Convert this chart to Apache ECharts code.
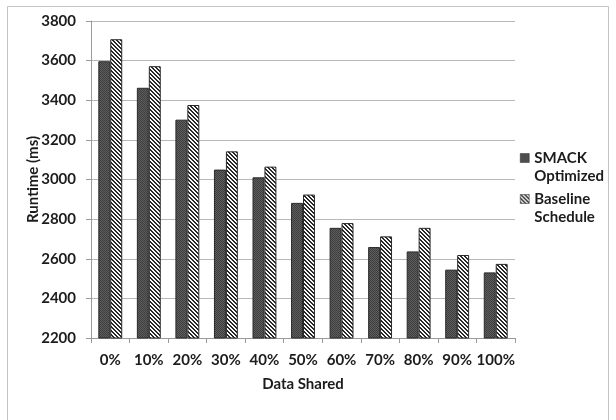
<!DOCTYPE html>
<html>
<head>
<meta charset="utf-8">
<script src="https://cdn.jsdelivr.net/npm/echarts@6/dist/echarts.min.js"></script>
<style>
  html, body { margin: 0; padding: 0; background: #fff; }
  #chart { width: 616px; height: 420px; }
</style>
</head>
<body>
<div id="chart"></div>
<script>
// Runtime per share level
const categories = ['0%', '10%', '20%', '30%', '40%', '50%', '60%', '70%', '80%', '90%', '100%'];
const smackOptimized = [3597, 3463, 3302, 3050, 3011, 2882, 2756, 2659, 2637, 2545, 2531];
const baselineSchedule = [3708, 3572, 3376, 3142, 3065, 2924, 2780, 2713, 2756, 2619, 2574];
const seriesNames = ['SMACK\nOptimized', 'Baseline\nSchedule'];
const yTicks = { min: 2200, max: 3800, step: 200 };

// Fine dark checker texture
function checkerPattern() {
  const c = document.createElement('canvas');
  c.width = 2; c.height = 2;
  const g = c.getContext('2d');
  g.fillStyle = '#5e5e5e'; g.fillRect(0, 0, 2, 2);
  g.fillStyle = '#3e3e3e'; g.fillRect(0, 0, 1, 1); g.fillRect(1, 1, 1, 1);
  return c;
}

// Diagonal "\" hatching
function hatchPattern() {
  const n = 4;
  const c = document.createElement('canvas');
  c.width = n; c.height = n;
  const g = c.getContext('2d');
  const img = g.createImageData(n, n);
  for (let y = 0; y < n; y++) {
    for (let x = 0; x < n; x++) {
      const d = ((x - y) % n + n) % n;
      const v = d < 2 ? 40 : 250;
      const i = (y * n + x) * 4;
      img.data[i] = v; img.data[i + 1] = v; img.data[i + 2] = v; img.data[i + 3] = 255;
    }
  }
  g.putImageData(img, 0, 0);
  return c;
}

const fontFamily = 'Lato, "Open Sans", sans-serif';
const textColor = '#1c1c1c';
const axisGray = '#9a9a9a';

const chart = echarts.init(document.getElementById('chart'), null, { renderer: 'canvas' });
chart.setOption({
  backgroundColor: '#ffffff',
  animation: false,
  graphic: [{
    type: 'rect',
    silent: true,
    shape: { x: 7.5, y: 6.5, width: 601, height: 600 },
    style: { fill: 'none', stroke: '#c4c4c4', lineWidth: 1 }
  }],
  grid: { left: 91, right: 101, top: 21, bottom: 82 },
  legend: {
    orient: 'vertical',
    left: 520,
    top: 131,
    padding: 0,
    itemWidth: 9,
    itemHeight: 9,
    itemGap: -13,
    icon: 'rect',
    selectedMode: false,
    // a leading blank line keeps the marker level with the first text line
    formatter: function (name) { return '\n' + name; },
    textStyle: {
      fontFamily: fontFamily,
      fontWeight: 'bold',
      fontSize: 15,
      color: textColor,
      lineHeight: 18
    },
    itemStyle: { borderColor: '#2a2a2a', borderWidth: 0.5 },
    data: seriesNames
  },
  xAxis: {
    type: 'category',
    data: categories,
    name: 'Data Shared',
    nameLocation: 'middle',
    nameGap: 39,
    nameTextStyle: { fontFamily: fontFamily, fontWeight: 'bold', fontSize: 15, color: textColor },
    axisLine: { lineStyle: { color: axisGray, width: 1 } },
    axisTick: { show: true, length: 5, alignWithLabel: false, lineStyle: { color: axisGray } },
    axisLabel: { interval: 0, fontFamily: fontFamily, fontWeight: 'bold', fontSize: 15, color: textColor, margin: 15 }
  },
  yAxis: {
    type: 'value',
    min: yTicks.min,
    max: yTicks.max,
    interval: yTicks.step,
    name: 'Runtime (ms)',
    nameLocation: 'middle',
    nameRotate: 90,
    nameGap: 50,
    nameMoveOverlap: false,
    nameTextStyle: { fontFamily: fontFamily, fontWeight: 'bold', fontSize: 15, color: textColor },
    axisLine: { show: true, lineStyle: { color: axisGray, width: 1 } },
    axisTick: { show: true, length: 5, lineStyle: { color: axisGray } },
    splitLine: { lineStyle: { color: '#b8b8b8', width: 1 } },
    axisLabel: {
      fontFamily: fontFamily, fontWeight: 'bold', fontSize: 15, color: textColor, margin: 15,
      formatter: function (v) { return String(v); }
    }
  },
  series: [
    {
      name: seriesNames[0],
      type: 'bar',
      data: smackOptimized,
      barGap: '0%',
      barCategoryGap: '38%',
      itemStyle: { color: { image: checkerPattern(), repeat: 'repeat' }, borderColor: '#2a2a2a', borderWidth: 1 }
    },
    {
      name: seriesNames[1],
      type: 'bar',
      data: baselineSchedule,
      barGap: '0%',
      barCategoryGap: '38%',
      itemStyle: { color: { image: hatchPattern(), repeat: 'repeat' }, borderColor: '#2a2a2a', borderWidth: 1 }
    }
  ]
});
</script>
</body>
</html>
